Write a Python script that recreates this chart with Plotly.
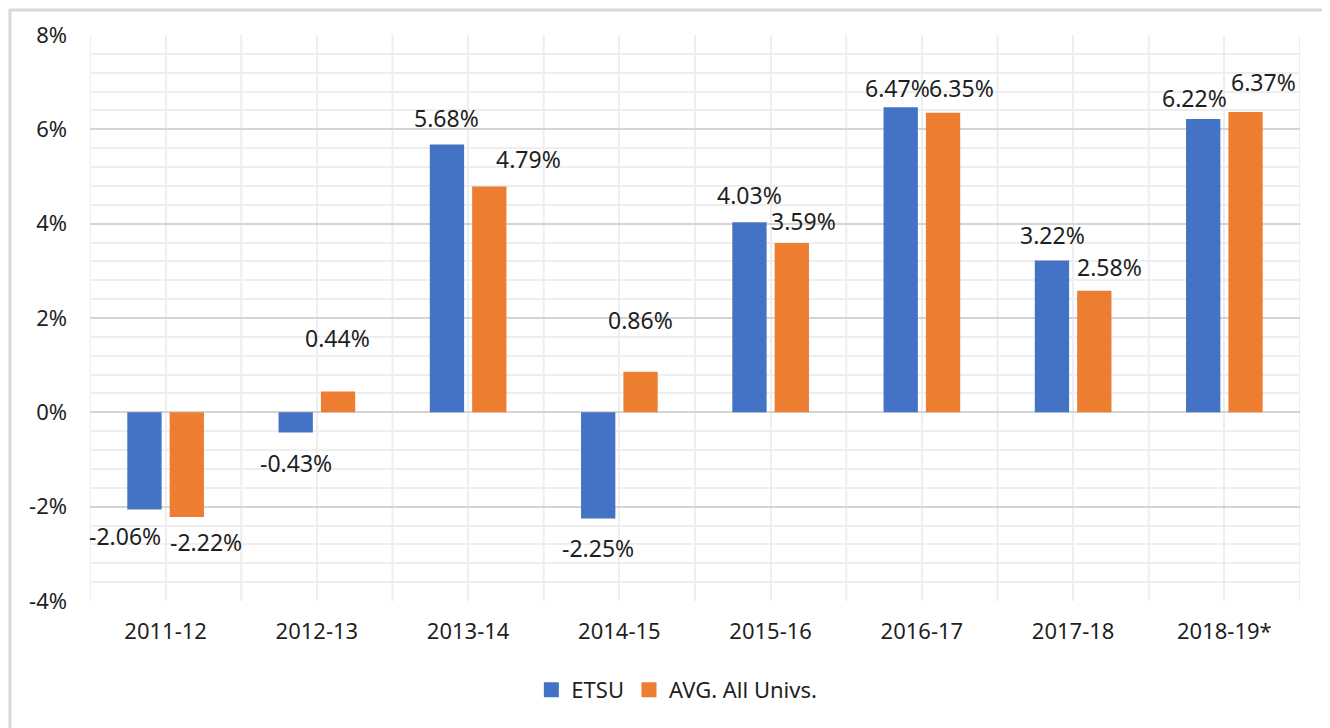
import plotly.graph_objects as go

categories = ["2011-12", "2012-13", "2013-14", "2014-15", "2015-16", "2016-17", "2017-18", "2018-19*"]
etsu = [-2.06, -0.43, 5.68, -2.25, 4.03, 6.47, 3.22, 6.22]
avg_all = [-2.22, 0.44, 4.79, 0.86, 3.59, 6.35, 2.58, 6.37]
series_names = ["ETSU", "AVG. All Univs."]
y_ticks = [-4, -2, 0, 2, 4, 6, 8]

# label styling nudges (pixels)
etsu_dx = [-20, 0, -1, 0, 0, -3, 0, -9]
etsu_dy = [26, 30, 26, 30, 27, 19, 25, 21]
avg_dx = [19, 0, 39, 0, 12, 19, 15, 18]
avg_dy = [25, 54, 27, 52, 22, 25, 24, 30]

BLUE = "#4472C4"
ORANGE = "#ED7D31"
FONT = "Noto Sans"
TXT = "#1F1F1F"

fig = go.Figure()
fig.add_trace(go.Bar(x=categories, y=etsu, name=series_names[0], marker_color=BLUE,
                     marker_line_width=0, showlegend=False))
fig.add_trace(go.Bar(x=categories, y=avg_all, name=series_names[1], marker_color=ORANGE,
                     marker_line_width=0, showlegend=False))
# legend entries with larger square swatches
for name, col in zip(series_names, [BLUE, ORANGE]):
    fig.add_trace(go.Scatter(x=[None], y=[None], mode="markers", name=name,
                             marker=dict(symbol="square", size=15, color=col)))

annotations = []
for vals, dxs, dys, side in [(etsu, etsu_dx, etsu_dy, -1), (avg_all, avg_dx, avg_dy, 1)]:
    for c, v, dx, dy in zip(categories, vals, dxs, dys):
        annotations.append(dict(
            x=c, y=v, xref="x", yref="y", text=f"{v:.2f}%", showarrow=False,
            xanchor="center", yanchor="middle",
            xshift=side * 21 + dx, yshift=dy if v >= 0 else -dy,
            font=dict(family=FONT, size=23, color=TXT)))

shapes = []
# category boundary vertical gridlines
for i in range(len(categories) + 1):
    shapes.append(dict(type="line", xref="x", yref="paper", x0=i - 0.5, x1=i - 0.5,
                       y0=0, y1=1, line=dict(color="#EEEEEE", width=2), layer="below"))
# outer border
shapes.append(dict(type="rect", xref="paper", yref="paper",
                   x0=-80 / 1210, x1=1 + 28 / 1210, y0=-0.5, y1=1 + 25 / 566,
                   line=dict(color="#D9D9D9", width=3), layer="below"))

fig.update_layout(
    width=1322, height=720,
    margin=dict(l=82, r=30, t=27, b=127),
    paper_bgcolor="white", plot_bgcolor="white",
    barmode="group", bargap=0.44, bargroupgap=0.19,
    font=dict(family=FONT, size=22, color=TXT),
    showlegend=True,
    legend=dict(orientation="h", x=0.485, xanchor="center", y=-0.157, yanchor="middle",
                font=dict(family=FONT, size=22, color=TXT), itemwidth=30,
                traceorder="normal"),
    annotations=annotations,
    shapes=shapes,
)
fig.update_xaxes(type="category", showgrid=True, gridcolor="#EEEEEE", gridwidth=2, ticks="",
                 showline=False, range=[-0.5, len(categories) - 0.5],
                 tickfont=dict(family=FONT, size=22, color=TXT), ticklabelstandoff=15)
fig.update_yaxes(range=[-4, 8], tickvals=y_ticks, ticktext=[f"{t}%" for t in y_ticks],
                 showgrid=True, gridcolor="#D4D4D4", gridwidth=2,
                 zeroline=True, zerolinecolor="#D4D4D4", zerolinewidth=2,
                 minor=dict(dtick=0.4, tick0=0, showgrid=True, gridcolor="#EEEEEE", gridwidth=2),
                 showline=False, ticks="", ticklabelstandoff=22,
                 tickfont=dict(family=FONT, size=22, color=TXT))

fig.write_html("out.html")
